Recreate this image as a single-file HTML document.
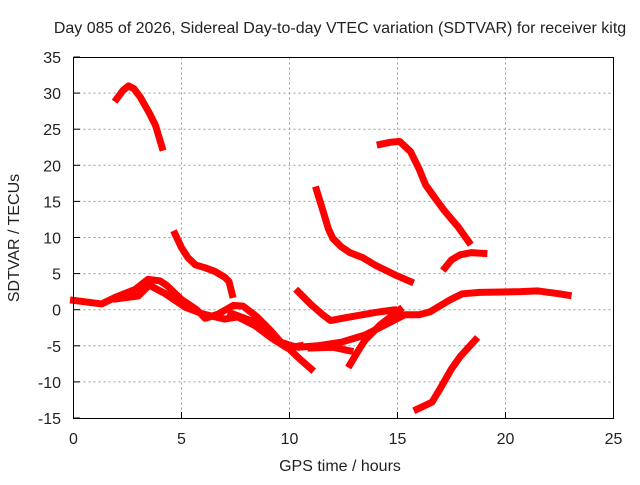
<!DOCTYPE html>
<html><head><meta charset="utf-8"><style>
body{margin:0;background:#fff;width:640px;height:480px;overflow:hidden}
svg{font-family:"Liberation Sans",sans-serif;font-size:16px;fill:#222}
</style></head><body>
<svg id="c" width="640" height="480">
<text x="340" y="33" text-anchor="middle">Day 085 of 2026, Sidereal Day-to-day VTEC variation (SDTVAR) for receiver kitg</text>
<text x="340" y="471" text-anchor="middle">GPS time / hours</text>
<text transform="translate(19,238) rotate(-90)" text-anchor="middle">SDTVAR / TECUs</text>
<g id="grid"></g>
<g id="ticks"></g>
<g id="series"></g>
<rect x="73.5" y="57.5" width="540" height="361" fill="none" stroke="#000" stroke-width="1"/>
</svg>
<script>
const xTicks=[0,5,10,15,20,25];
const yTicks=[35,30,25,20,15,10,5,0,-5,-10,-15];
const trackA=[[2.0,29.2],[2.3,30.4],[2.55,31.0],[2.8,30.6],[3.1,29.4],[3.5,27.3],[3.8,25.5],[4.1,22.5]];
const trackB=[[4.7,10.5],[5.0,8.6],[5.3,7.2],[5.65,6.2],[6.1,5.8],[6.55,5.3],[7.0,4.5],[7.2,3.9],[7.35,2.1]];
const trackC=[[11.25,16.6],[11.6,13.2],[11.8,11.2],[12.0,9.9],[12.4,8.7],[12.8,7.9],[13.4,7.2],[13.95,6.2],[14.9,4.8],[15.6,3.9]];
const trackD=[[14.2,22.9],[14.7,23.2],[15.1,23.3],[15.6,21.9],[16.0,19.5],[16.3,17.3],[16.8,15.2],[17.2,13.6],[17.8,11.5],[18.3,9.4]];
const trackE=[[17.2,5.8],[17.5,6.9],[17.9,7.6],[18.4,7.9],[19.0,7.8]];
const trackF=[[15.9,-13.8],[16.6,-12.8],[17.0,-10.8],[17.5,-8.2],[17.9,-6.5],[18.6,-4.2]];
const trackG=[[10.4,2.5],[11.0,0.7],[11.5,-0.6],[11.9,-1.5],[12.6,-1.1],[13.95,-0.4],[14.9,0],[15.1,-0.7],[16.0,-0.7],[16.5,-0.3],[17.45,1.4],[18.0,2.2],[18.8,2.4],[20.7,2.5],[21.5,2.6],[22.5,2.2],[22.9,2.0]];
const trackH=[[12.8,-7.6],[13.2,-5.6],[13.5,-4.2],[14.2,-2.1],[15.1,0]];
const trackI=[[0,1.3],[1.3,0.8],[2.0,1.8],[2.85,2.8],[3.45,4.2],[4.0,4.0],[4.3,3.4],[5.0,1.4],[5.7,0],[6.1,-1.2],[6.7,-0.6],[7.4,0.6],[7.85,0.5],[8.5,-1.0],[9.1,-2.8],[9.6,-4.5],[10.1,-5.0],[10.4,-5.2],[11.3,-5.0],[12.4,-4.5],[13.5,-3.5],[14.3,-2.3],[15.2,-0.9]];
const trackJ=[[2.0,1.5],[3.0,1.9],[3.5,3.4],[4.2,2.3],[5.2,0.3],[6.0,-0.6],[7.0,-1.3],[7.6,-1.0],[8.4,-2.2],[9.2,-4.0],[9.9,-5.3],[10.5,-5.0]];
const trackK=[[7.3,-0.5],[8.2,-1.5],[9.0,-3.3],[9.8,-4.9],[10.5,-6.9],[11.0,-8.2]];
const trackL=[[11.0,-5.3],[12.0,-5.2],[12.8,-5.7]];
const tracks=[trackA,trackB,trackC,trackD,trackE,trackF,trackG,trackH,trackI,trackJ,trackK,trackL];
const X=h=>73.5+h*21.6, Y=v=>309.7-v*7.22;
const NS="http://www.w3.org/2000/svg";
const grid=document.getElementById('grid'),ticks=document.getElementById('ticks'),ser=document.getElementById('series');
function mk(tag,at,parent){const e=document.createElementNS(NS,tag);for(const k in at)e.setAttribute(k,at[k]);parent.appendChild(e);return e;}
xTicks.forEach(t=>{
  if(t>0&&t<25){const l=mk('line',{x1:X(t),x2:X(t),y1:57.5,y2:418.5,stroke:'#999','stroke-dasharray':'2,3'},grid);
  
  }
  const tk=mk('line',{x1:X(t),x2:X(t),y1:418.5,y2:412,stroke:'#000'},ticks);
  
  
  const tx=mk('text',{x:X(t),y:444,'text-anchor':'middle'},ticks);tx.textContent=t;
  
  
});
yTicks.forEach(t=>{
  if(t<35&&t>-15){const l=mk('line',{x1:73.5,x2:613.5,y1:Y(t),y2:Y(t),stroke:'#999','stroke-dasharray':'2,3'},grid);
  
  }
  const tk=mk('line',{x1:73.5,x2:80,y1:Y(t),y2:Y(t),stroke:'#000'},ticks);
  
  
  const tx=mk('text',{x:61,y:Y(t)+6,'text-anchor':'end'},ticks);tx.textContent=t;
  
  
});
tracks.forEach(tr=>{
  const p=mk('polyline',{points:tr.map(d=>X(d[0])+','+Y(d[1])).join(' '),fill:'none',stroke:'#ff0000','stroke-width':7,'stroke-linejoin':'round','stroke-linecap':'square'},ser);
  
  
});
</script>
</body></html>
